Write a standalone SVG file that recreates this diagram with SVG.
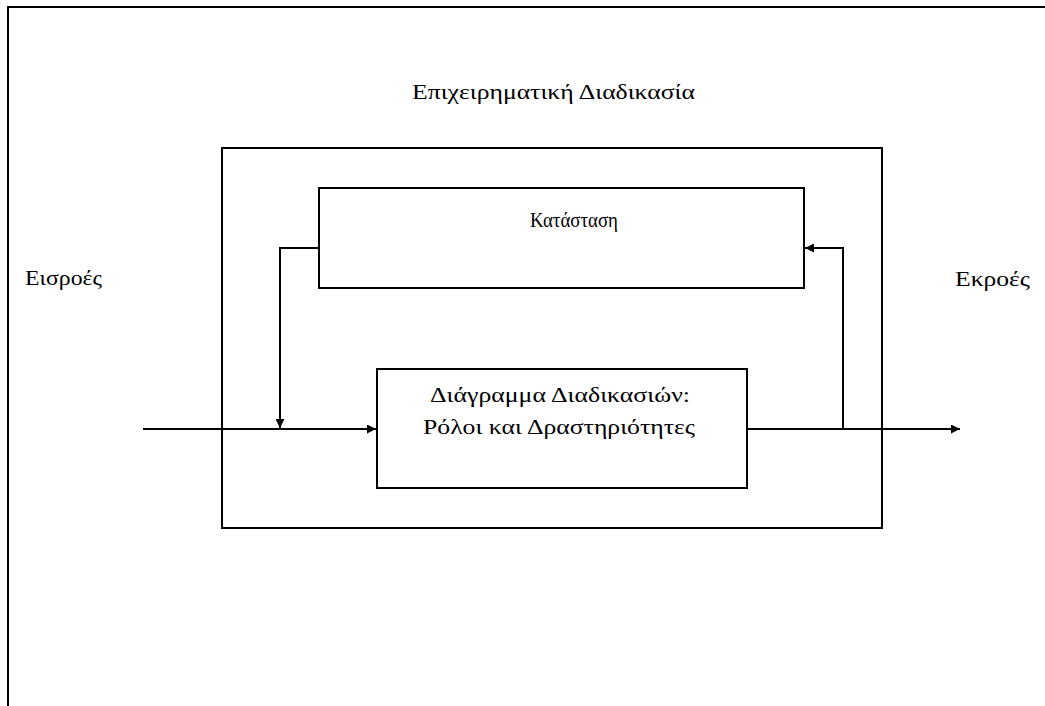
<svg xmlns="http://www.w3.org/2000/svg" width="1045" height="706" viewBox="0 0 1045 706">
<style>
.ln{fill:none;stroke:#000;stroke-width:2}
.box{fill:#fff;stroke:#000;stroke-width:2}
.t{font-family:"Liberation Serif","DejaVu Serif",serif;font-size:21px;fill:#000}
</style>
<defs>
<marker id="ah" viewBox="0 0 10 10" refX="10" refY="5" markerWidth="9" markerHeight="9" markerUnits="userSpaceOnUse" orient="auto">
<path d="M0,0 L10,5 L0,10 Z" fill="#000"/>
</marker>
</defs>
<rect width="1045" height="706" fill="#fff"/>
<path class="ln" d="M8,712 V7 H1050"/>
<g id="process">
<rect class="box" x="222" y="148" width="660" height="380"/>
<text class="t" x="412" y="99" textLength="283" lengthAdjust="spacingAndGlyphs">Επιχειρηματική Διαδικασία</text>
</g>
<g id="state">
<rect class="box" x="319" y="188" width="485" height="100"/>
<text class="t" x="530" y="227" textLength="88" lengthAdjust="spacingAndGlyphs">Κατάσταση</text>
</g>
<g id="activities">
<rect class="box" x="377" y="369" width="370" height="119"/>
<text class="t" x="430" y="402" textLength="260" lengthAdjust="spacingAndGlyphs">Διάγραμμα Διαδικασιών:</text>
<text class="t" x="423" y="434" textLength="272" lengthAdjust="spacingAndGlyphs">Ρόλοι και Δραστηριότητες</text>
</g>
<g id="inputs">
<text class="t" x="25" y="285" textLength="77" lengthAdjust="spacingAndGlyphs">Εισροές</text>
</g>
<g id="outputs">
<text class="t" x="955" y="286" textLength="75" lengthAdjust="spacingAndGlyphs">Εκροές</text>
</g>
<g id="connectors">
<path class="ln" d="M143,429 H376" marker-end="url(#ah)"/>
<path class="ln" d="M319,248 H280 V428" marker-end="url(#ah)"/>
<path class="ln" d="M747,429 H960" marker-end="url(#ah)"/>
<path class="ln" d="M843,429 V248 H805" marker-end="url(#ah)"/>
</g>
</svg>
